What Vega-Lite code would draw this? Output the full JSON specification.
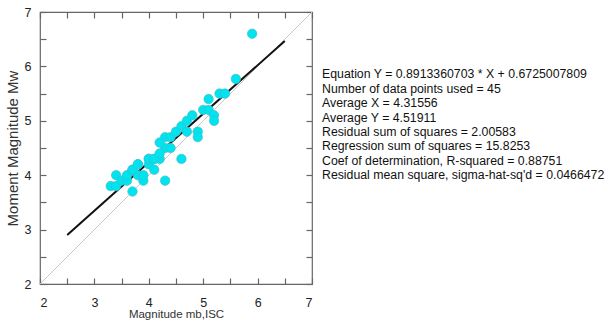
{
  "$schema": "https://vega.github.io/schema/vega-lite/v6.json",
  "padding": {"left": 4, "top": 5, "right": 0, "bottom": 0},
  "background": "white",
  "config": {
    "font": "Liberation Sans",
    "view": {"stroke": "#666666", "strokeWidth": 1.2},
    "concat": {"spacing": 7},
    "axis": {
      "grid": false,
      "ticks": true,
      "domain": false,
      "offset": -6,
      "tickColor": "#666666",
      "tickWidth": 1.2,
      "tickSize": 6,
      "labelFont": "Liberation Sans",
      "labelFontSize": 12.5,
      "labelColor": "#222222",
      "titleFont": "Liberation Sans",
      "titleFontWeight": "normal",
      "titleColor": "#333333",
      "zindex": 1
    }
  },
  "hconcat": [
    {
      "width": 272,
      "height": 272,
      "resolve": {"axis": {"x": "independent", "y": "independent"}},
      "layer": [
        {
          "data": {"values": [{"mb": 2, "mw": 2}, {"mb": 7, "mw": 7}]},
          "mark": {"type": "line", "color": "#c8c8c8", "strokeWidth": 1},
          "encoding": {
            "x": {"field": "mb", "type": "quantitative",
              "scale": {"domain": [2, 7], "nice": false, "zero": false},
              "axis": {"orient": "bottom", "values": [2, 2.5, 3, 3.5, 4, 4.5, 5, 5.5, 6, 6.5, 7],
                "labelExpr": "datum.value % 1 === 0 ? format(datum.value, 'd') : ''", "labelPadding": 12,
                "title": "Magnitude mb,ISC", "titleFontSize": 11.5, "titlePadding": 0}},
            "y": {"field": "mw", "type": "quantitative",
              "scale": {"domain": [2, 7], "nice": false, "zero": false},
              "axis": {"orient": "left", "values": [2, 2.5, 3, 3.5, 4, 4.5, 5, 5.5, 6, 6.5, 7],
                "labelExpr": "datum.value % 1 === 0 ? format(datum.value, 'd') : ''", "labelPadding": 9,
                "title": "Moment Magnitude Mw", "titleFontSize": 15, "titlePadding": 4}}
          }
        },
        {
          "data": {"values": [{"mb": 2.5, "mw": 2.9009}, {"mb": 6.5, "mw": 6.4662}]},
          "mark": {"type": "line", "color": "#111111", "strokeWidth": 2},
          "encoding": {
            "x": {"field": "mb", "type": "quantitative",
              "axis": {"orient": "top", "values": [2, 2.5, 3, 3.5, 4, 4.5, 5, 5.5, 6, 6.5, 7], "labels": false, "title": null}},
            "y": {"field": "mw", "type": "quantitative",
              "axis": {"orient": "right", "values": [2, 2.5, 3, 3.5, 4, 4.5, 5, 5.5, 6, 6.5, 7], "labels": false, "title": null}}
          }
        },
        {
          "data": {"values": [
            {"mb": 3.3, "mw": 3.8}, {"mb": 3.4, "mw": 3.8}, {"mb": 3.4, "mw": 4.0}, {"mb": 3.5, "mw": 3.9},
            {"mb": 3.6, "mw": 3.9}, {"mb": 3.6, "mw": 4.0}, {"mb": 3.7, "mw": 4.1}, {"mb": 3.7, "mw": 3.7},
            {"mb": 3.8, "mw": 4.2}, {"mb": 3.8, "mw": 4.0}, {"mb": 3.9, "mw": 3.9}, {"mb": 3.9, "mw": 4.0},
            {"mb": 4.0, "mw": 4.3}, {"mb": 4.0, "mw": 4.2}, {"mb": 4.1, "mw": 4.1}, {"mb": 4.1, "mw": 4.3},
            {"mb": 4.2, "mw": 4.3}, {"mb": 4.3, "mw": 3.9}, {"mb": 4.3, "mw": 4.5}, {"mb": 4.4, "mw": 4.5},
            {"mb": 4.6, "mw": 4.3}, {"mb": 4.3, "mw": 4.7}, {"mb": 4.4, "mw": 4.7}, {"mb": 4.5, "mw": 4.8},
            {"mb": 4.6, "mw": 4.9}, {"mb": 4.7, "mw": 5.0}, {"mb": 4.7, "mw": 4.8}, {"mb": 4.8, "mw": 5.1},
            {"mb": 4.9, "mw": 4.8}, {"mb": 4.9, "mw": 4.7}, {"mb": 5.0, "mw": 5.2}, {"mb": 5.1, "mw": 5.2},
            {"mb": 5.1, "mw": 5.4}, {"mb": 5.2, "mw": 5.1}, {"mb": 5.2, "mw": 5.0}, {"mb": 5.3, "mw": 5.5},
            {"mb": 5.4, "mw": 5.5}, {"mb": 5.6, "mw": 5.77}, {"mb": 5.9, "mw": 6.6},
            {"mb": 3.7, "mw": 4.1}, {"mb": 3.8, "mw": 4.2}, {"mb": 4.0, "mw": 4.3}, {"mb": 4.1, "mw": 4.3},
            {"mb": 4.2, "mw": 4.4}, {"mb": 4.2, "mw": 4.6}
          ]},
          "mark": {"type": "point", "filled": true, "shape": "circle", "size": 90, "color": "#00e4ef", "opacity": 1, "stroke": "#4ab5c0", "strokeWidth": 0.6},
          "encoding": {
            "x": {"field": "mb", "type": "quantitative", "axis": null},
            "y": {"field": "mw", "type": "quantitative", "axis": null}
          }
        }
      ]
    },
    {
      "width": 285,
      "height": 272,
      "view": {"stroke": null},
      "data": {"values": [
        {"line": 0, "text": "Equation Y = 0.8913360703 * X + 0.6725007809"},
        {"line": 1, "text": "Number of data points used = 45"},
        {"line": 2, "text": "Average X = 4.31556"},
        {"line": 3, "text": "Average Y = 4.51911"},
        {"line": 4, "text": "Residual sum of squares = 2.00583"},
        {"line": 5, "text": "Regression sum of squares = 15.8253"},
        {"line": 6, "text": "Coef of determination, R-squared = 0.88751"},
        {"line": 7, "text": "Residual mean square, sigma-hat-sq'd = 0.0466472"}
      ]},
      "mark": {"type": "text", "align": "left", "baseline": "middle", "fontSize": 12.3, "font": "Liberation Sans", "color": "#111111"},
      "encoding": {
        "x": {"datum": 0, "type": "quantitative", "scale": {"domain": [0, 1], "nice": false, "zero": false}, "axis": null},
        "y": {"field": "line", "type": "quantitative", "scale": {"domain": [-4.33, 14.56], "reverse": true, "nice": false, "zero": false}, "axis": null},
        "text": {"field": "text"}
      }
    }
  ]
}
